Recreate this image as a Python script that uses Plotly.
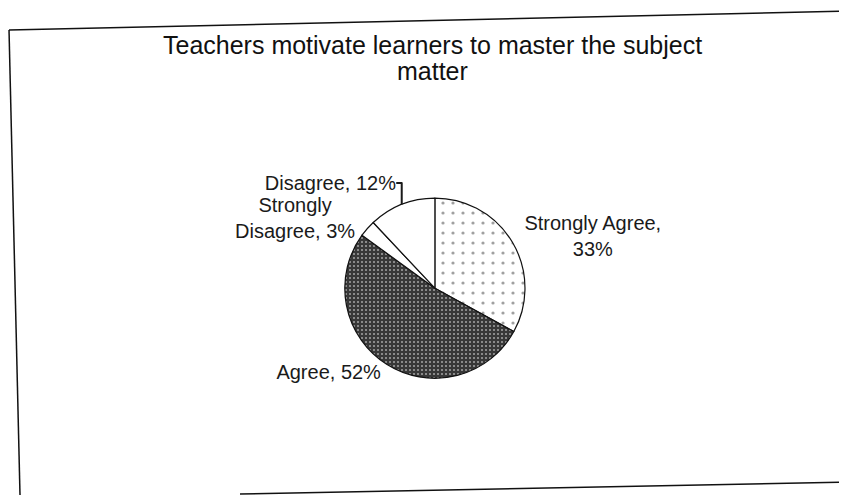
import plotly.graph_objects as go

categories = ["Strongly Agree", "Agree", "Strongly Disagree", "Disagree"]
percentages = [33, 52, 3, 12]
label_text = ["Strongly Agree,<br>33%", "Agree, 52%", "Strongly<br>Disagree, 3%", "Disagree, 12%"]
slice_colors = ["#ffffff", "#3a3a3a", "#ffffff", "#ffffff"]
pattern_shapes = [".", ".", "", ""]
pattern_fg = ["#a0a0a0", "#a6a6a6", "#ffffff", "#ffffff"]
pattern_bg = ["#ffffff", "#383838", "#ffffff", "#ffffff"]
pattern_size = [10, 4, 8, 8]
pattern_solidity = [0.08, 0.2, 0.1, 0.1]
title_lines = ["Teachers motivate learners to master the subject", "matter"]

FONT = "Liberation Sans, Arial, sans-serif"

fig = go.Figure()
fig.add_trace(go.Pie(
    labels=categories,
    values=percentages,
    text=label_text,
    sort=False,
    direction="clockwise",
    rotation=0,
    marker=dict(
        colors=slice_colors,
        line=dict(color="#111111", width=1.2),
        pattern=dict(shape=pattern_shapes, fgcolor=pattern_fg, bgcolor=pattern_bg,
                     size=pattern_size, solidity=pattern_solidity, fillmode="replace"),
    ),
    texttemplate="%{text}",
    textposition="outside",
    outsidetextfont=dict(family=FONT, size=20, color="#1a1a1a"),
    domain=dict(x=[0.36, 0.648], y=[0.252, 0.616]),
    showlegend=False,
    hoverinfo="label+percent",
))

frame = dict(color="#111111", width=1.5)
title_font = dict(family=FONT, size=25, color="#111111")
fig.update_layout(
    width=847,
    height=495,
    margin=dict(l=0, r=0, t=0, b=0),
    paper_bgcolor="white",
    plot_bgcolor="white",
    annotations=[
        dict(text=title_lines[0], xref="paper", yref="paper", x=0.5006, y=0.925,
             xanchor="center", yanchor="middle", showarrow=False, font=title_font),
        dict(text=title_lines[1], xref="paper", yref="paper", x=0.5006, y=0.872,
             xanchor="center", yanchor="middle", showarrow=False, font=title_font),
    ],
    shapes=[
        dict(type="line", xref="paper", yref="paper", x0=0.0012, y0=0.9556, x1=1.0, y1=0.9943, line=frame),
        dict(type="line", xref="paper", yref="paper", x0=0.0012, y0=0.9556, x1=0.0144, y1=0.0, line=frame),
        dict(type="line", xref="paper", yref="paper", x0=0.2739, y0=0.0182, x1=1.0, y1=0.0424, line=frame),
    ],
)

fig.write_html("out.html")
